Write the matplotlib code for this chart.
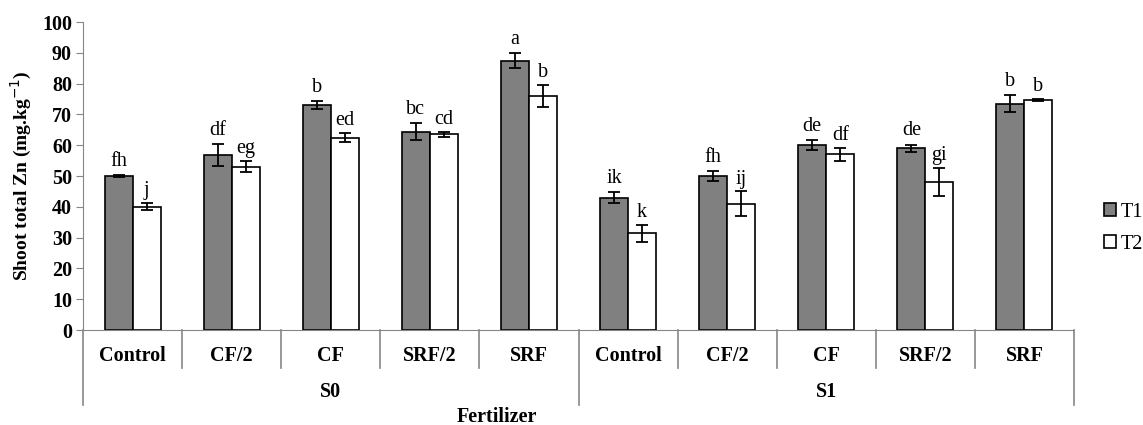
import matplotlib.pyplot as plt
import numpy as np
from matplotlib.transforms import blended_transform_factory

plt.rcParams['font.family'] = ['Liberation Serif', 'DejaVu Serif']

# data
fertilizers = ["Control", "CF/2", "CF", "SRF/2", "SRF"]
sites = ["S0", "S1"]
t1 = [50.0, 56.8, 73.0, 64.4, 87.5, 43.0, 50.0, 60.0, 59.0, 73.5]
t1_err = [0.3, 3.5, 1.4, 2.8, 2.3, 1.8, 1.5, 1.7, 1.2, 2.8]
t2 = [40.0, 53.0, 62.5, 63.5, 76.0, 31.4, 41.0, 57.0, 48.0, 74.7]
t2_err = [1.2, 1.8, 1.4, 0.9, 3.5, 2.8, 4.0, 2.2, 4.6, 0.3]
t1_letters = ["fh", "df", "b", "bc", "a", "ik", "fh", "de", "de", "b"]
t2_letters = ["j", "eg", "ed", "cd", "b", "k", "ij", "df", "gi", "b"]

fig = plt.figure(figsize=(11.43, 4.25), dpi=100)
ax = fig.add_axes([83 / 1143, 95 / 425, 991 / 1143, 308 / 425])

n = len(t1)
x = np.arange(n)
w = 0.283
ekw = dict(ecolor='black', elinewidth=1.3, capsize=4, capthick=1.3)
ax.bar(x - w / 2, t1, w, yerr=t1_err, color='#808080', edgecolor='black',
       linewidth=1.2, label='T1', error_kw=ekw)
ax.bar(x + w / 2, t2, w, yerr=t2_err, color='white', edgecolor='black',
       linewidth=1.2, label='T2', error_kw=ekw)

for i in range(n):
    ax.annotate(t1_letters[i], (x[i] - w / 2, t1[i] + t1_err[i]),
                xytext=(0, 3), textcoords='offset points', ha='center',
                va='bottom', fontsize=14.5)
    ax.annotate(t2_letters[i], (x[i] + w / 2, t2[i] + t2_err[i]),
                xytext=(0, 2), textcoords='offset points', ha='center',
                va='bottom', fontsize=14.5)

ax.set_xlim(-0.5, n - 0.5)
ax.set_ylim(0, 100)
ax.set_yticks(range(0, 101, 10))
ax.tick_params(axis='y', labelsize=14.5, color='#868686', length=5, pad=3)
for lab in ax.get_yticklabels():
    lab.set_fontweight('bold')
ax.set_xticks([])
for s in ['top', 'right']:
    ax.spines[s].set_visible(False)
ax.spines['left'].set_color('#868686')
ax.spines['bottom'].set_color('#868686')
ax.set_ylabel('Shoot total Zn (mg.kg$^{-1}$)', fontsize=14,
              fontweight='bold', labelpad=6)

# category axis with grouped labels
tr = blended_transform_factory(ax.transData, ax.transAxes)
inner = -38 / 308
outer = -75 / 308
for b in np.arange(0.5, n - 1, 1.0):
    depth = outer if b == 4.5 else inner
    ax.plot([b, b], [0, depth], transform=tr, color='#868686', lw=1.2,
            clip_on=False)
for b in [-0.5, n - 0.5]:
    ax.plot([b, b], [0, outer], transform=tr, color='#868686', lw=1.2,
            clip_on=False)
for i in range(n):
    ax.text(x[i], -26 / 308, fertilizers[i % 5], transform=tr, ha='center',
            va='center', fontsize=14.5, fontweight='bold')
for j, s in enumerate(sites):
    ax.text(5 * j + 2, -62 / 308, s, transform=tr, ha='center', va='center',
            fontsize=14.5, fontweight='bold')
fig.text(497 / 1143, 8 / 425, 'Fertilizer', ha='center', va='center',
         fontsize=14.5, fontweight='bold')

ax.legend(loc='center left', bbox_to_anchor=(1.03, 0.33), frameon=False,
          fontsize=14.5, handlelength=0.6, handleheight=0.6, handletextpad=0.25,
          labelspacing=0.65, borderpad=0, borderaxespad=0)

fig.savefig('out.png', dpi=100)
